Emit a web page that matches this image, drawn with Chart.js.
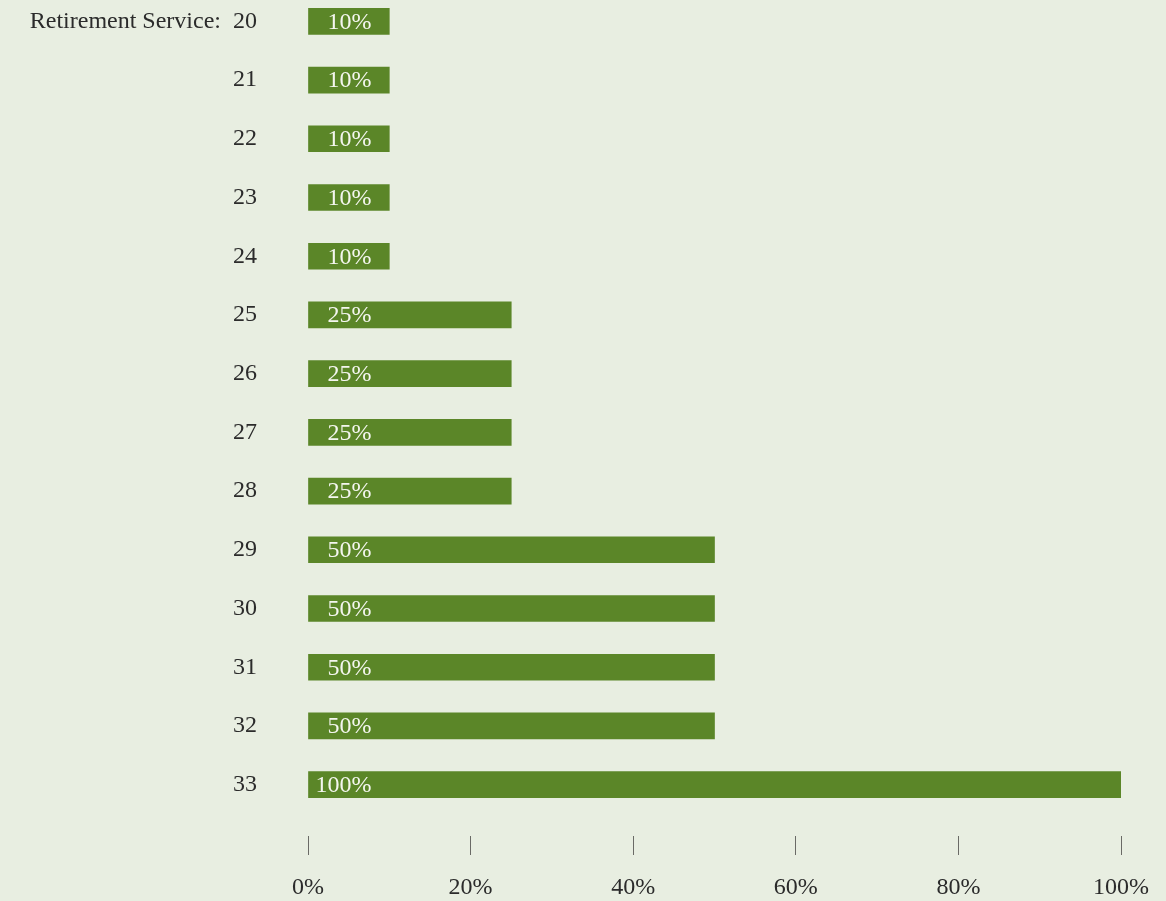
<!DOCTYPE html>
<html>
<head>
<meta charset="utf-8">
<script src="https://cdn.jsdelivr.net/npm/chart.js@4"></script>
<style>
    html, body { margin: 0; padding: 0; background: #e8eee1; overflow: hidden; }
    #wrap { position: absolute; left: 0; top: -8px; width: 1166px; height: 910px; }
</style>
</head>
<body>
<div id="wrap"><canvas id="vestingChart"></canvas></div>
<script>
const serviceYears = ['Retirement Service:  20', '21', '22', '23', '24', '25', '26', '27', '28', '29', '30', '31', '32', '33'];
const vestedPercent = [10, 10, 10, 10, 10, 25, 25, 25, 25, 50, 50, 50, 50, 100];
const axisTicks = [0, 20, 40, 60, 80, 100];

const serif = "'Liberation Serif', 'Times New Roman', serif";

// percent text inside each bar, right-aligned a fixed distance from the bar's base
const barLabels = {
    id: 'barLabels',
    afterDatasetsDraw(chart) {
        const ctx = chart.ctx;
        const meta = chart.getDatasetMeta(0);
        ctx.save();
        ctx.font = '24px ' + serif;
        ctx.fillStyle = '#f4f6ef';
        ctx.textAlign = 'right';
        ctx.textBaseline = 'middle';
        meta.data.forEach((bar, i) => {
            ctx.fillText(vestedPercent[i] + '%', bar.base + 63, bar.y + 1);
        });
        ctx.restore();
    }
};

new Chart(document.getElementById('vestingChart'), {
    type: 'bar',
    data: {
        labels: serviceYears,
        datasets: [{
            data: vestedPercent,
            backgroundColor: '#5b8628',
            barThickness: 26
        }]
    },
    options: {
        indexAxis: 'y',
        responsive: true,
        maintainAspectRatio: false,
        animation: false,
        layout: {
            padding: { top: 0, right: 45, bottom: 0, left: 0 }
        },
        plugins: {
            legend: { display: false },
            tooltip: { enabled: false }
        },
        scales: {
            x: {
                min: 0,
                max: 100,
                afterBuildTicks: scale => {
                    scale.ticks = axisTicks.map(v => ({ value: v }));
                },
                afterFit: scale => {
                    scale.height = 88;
                    scale.paddingLeft = 0;
                    scale.paddingRight = 0;
                },
                border: { display: false },
                grid: {
                    drawOnChartArea: false,
                    drawTicks: true,
                    // short tick marks set apart from the bars by a gap
                    tickLength: 41,
                    tickColor: '#6a6a66',
                    tickWidth: 1,
                    tickBorderDash: [19, 22],
                    tickBorderDashOffset: 19
                },
                ticks: {
                    padding: 18,
                    color: '#2b2b2b',
                    font: { family: serif, size: 24 },
                    callback: value => value + '%'
                }
            },
            y: {
                afterFit: scale => {
                    scale.width = 308;
                    scale.paddingTop = 0;
                    scale.paddingBottom = 0;
                },
                border: { display: false },
                grid: { display: false, drawTicks: false },
                ticks: {
                    padding: 51,
                    color: '#2b2b2b',
                    font: { family: serif, size: 24 }
                }
            }
        }
    },
    plugins: [barLabels]
});
</script>
</body>
</html>
